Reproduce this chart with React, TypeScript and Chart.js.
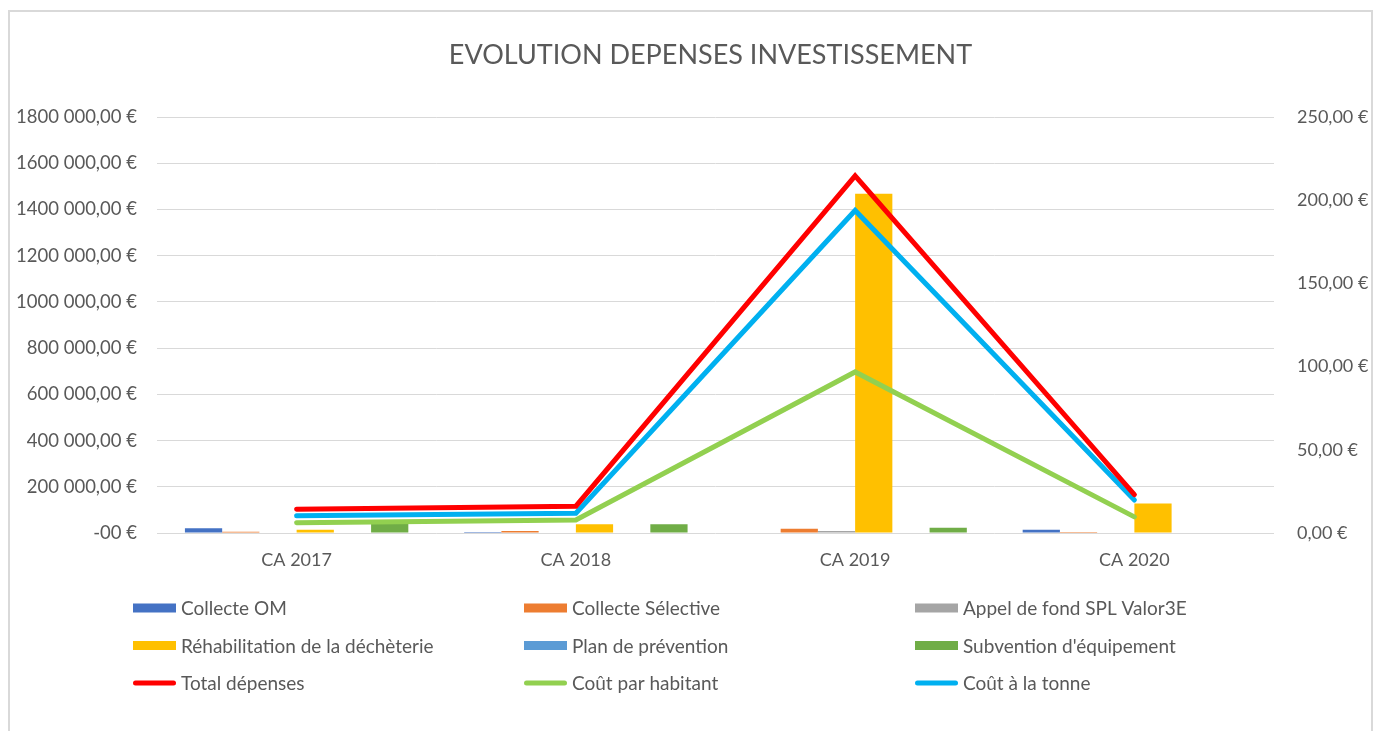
import React, { useEffect, useRef } from "react";
import { Chart, registerables } from "chart.js";

Chart.register(...registerables);

const categories = ["CA 2017", "CA 2018", "CA 2019", "CA 2020"];

const collecteOM = [20500, 4300, 0, 14500];
const collecteSelective = [5000, 8700, 18800, 4300];
const appelFond = [0, 0, 8700, 0];
const rehabilitation = [14000, 37700, 1468000, 127500];
const planPrevention = [0, 0, 0, 0];
const subvention = [42000, 37700, 23200, 0];

const totalDepenses = [103000, 116000, 1545000, 166000];
const coutHabitant = [6.2, 7.8, 96.8, 9.7];
const coutTonne = [10.3, 11.9, 193.8, 19.8];

const leftTickLabels = [
  "-00 €",
  "200 000,00 €",
  "400 000,00 €",
  "600 000,00 €",
  "800 000,00 €",
  "1000 000,00 €",
  "1200 000,00 €",
  "1400 000,00 €",
  "1600 000,00 €",
  "1800 000,00 €",
];
const rightTickLabels = ["0,00 €", "50,00 €", "100,00 €", "150,00 €", "200,00 €", "250,00 €"];

const TITLE = "EVOLUTION DEPENSES INVESTISSEMENT";
const FONT = "Lato";
const TEXT_COLOR = "#595959";

const titleAndLegendPlugin = {
  id: "titleAndLegend",
  afterDraw(chart: any) {
    const ctx = chart.ctx as CanvasRenderingContext2D;
    ctx.save();
    // title
    ctx.font = `27px ${FONT}`;
    ctx.fillStyle = TEXT_COLOR;
    ctx.textAlign = "center";
    ctx.textBaseline = "middle";
    ctx.fillText(TITLE, chart.width / 2 + 20, 43);

    // legend in a 3-column grid
    const left = 123;
    const top = 596;
    const colGap = 391;
    const rowGap = 37.5;
    const markerW = 43;
    ctx.font = `19px ${FONT}`;
    ctx.textAlign = "left";
    chart.data.datasets.forEach((ds: any, i: number) => {
      const col = i % 3;
      const row = Math.floor(i / 3);
      const x = left + col * colGap;
      const y = top + row * rowGap;
      if (ds.type === "line") {
        ctx.strokeStyle = ds.borderColor;
        ctx.lineWidth = 5;
        ctx.lineCap = "round";
        ctx.beginPath();
        ctx.moveTo(x + 2.5, y);
        ctx.lineTo(x + markerW - 2.5, y);
        ctx.stroke();
      } else {
        ctx.fillStyle = ds.backgroundColor;
        ctx.fillRect(x, y - 4.5, markerW, 9);
      }
      ctx.fillStyle = TEXT_COLOR;
      ctx.fillText(ds.label, x + markerW + 5, y + 1);
    });
    ctx.restore();
  },
};

export default function App() {
  const canvasRef = useRef<HTMLCanvasElement | null>(null);

  useEffect(() => {
    if (!canvasRef.current) return;
    const bar = (label: string, data: number[], color: string) => ({
      type: "bar" as const,
      label,
      data,
      backgroundColor: color,
      borderWidth: 0,
      categoryPercentage: 0.8,
      barPercentage: 1.0,
      yAxisID: "y",
      order: 2,
    });
    const line = (label: string, data: number[], color: string, axis: string) => ({
      type: "line" as const,
      label,
      data,
      borderColor: color,
      backgroundColor: color,
      borderWidth: 5,
      pointRadius: 0,
      pointHoverRadius: 0,
      borderCapStyle: "round" as const,
      borderJoinStyle: "miter" as const,
      tension: 0,
      fill: false,
      yAxisID: axis,
      order: 1,
    });

    const chart = new Chart(canvasRef.current, {
      data: {
        labels: categories,
        datasets: [
          bar("Collecte OM", collecteOM, "#4472C4"),
          bar("Collecte Sélective", collecteSelective, "#ED7D31"),
          bar("Appel de fond SPL Valor3E", appelFond, "#A5A5A5"),
          bar("Réhabilitation de la déchèterie", rehabilitation, "#FFC000"),
          bar("Plan de prévention", planPrevention, "#5B9BD5"),
          bar("Subvention d'équipement", subvention, "#70AD47"),
          line("Total dépenses", totalDepenses, "#FF0000", "y"),
          line("Coût par habitant", coutHabitant, "#92D050", "y1"),
          line("Coût à la tonne", coutTonne, "#00B0F0", "y1"),
        ] as any,
      },
      options: {
        animation: false,
        responsive: false,
        maintainAspectRatio: false,
        layout: { padding: { top: 105, left: 0, right: 0, bottom: 148 } },
        plugins: {
          legend: { display: false },
          tooltip: { enabled: false },
          title: { display: false },
        },
        scales: {
          x: {
            offset: true,
            grid: { display: false, drawTicks: false, tickLength: 0 },
            border: { display: false },
            ticks: { color: TEXT_COLOR, font: { family: FONT, size: 18 }, padding: 16 },
            afterFit: (s: any) => {
              s.height = 50;
            },
          },
          y: {
            position: "left",
            min: 0,
            max: 1800000,
            grid: { color: "#d9d9d9", lineWidth: 1, drawTicks: false, tickLength: 0 },
            border: { display: false },
            ticks: {
              stepSize: 200000,
              color: TEXT_COLOR,
              font: { family: FONT, size: 18.5 },
              padding: 20,
              callback: (_v: any, i: number) => leftTickLabels[i],
            },
            afterFit: (s: any) => {
              s.width = 147;
            },
          },
          y1: {
            position: "right",
            min: 0,
            max: 250,
            grid: { drawOnChartArea: false, drawTicks: false, tickLength: 0 },
            border: { display: false },
            ticks: {
              stepSize: 50,
              color: TEXT_COLOR,
              font: { family: FONT, size: 18 },
              padding: 23,
              callback: (_v: any, i: number) => rightTickLabels[i],
            },
            afterFit: (s: any) => {
              s.width = 97;
            },
          },
        },
      } as any,
      plugins: [titleAndLegendPlugin],
    });
    return () => chart.destroy();
  }, []);

  return (
    <div
      style={{
        position: "absolute",
        left: 8,
        top: 10,
        width: 1365,
        height: 721,
        boxSizing: "border-box",
        borderTop: "2px solid #d9d9d9",
        borderLeft: "2px solid #d9d9d9",
        borderRight: "2px solid #d9d9d9",
        background: "#fff",
      }}
    >
      <canvas ref={canvasRef} width={1361} height={719} style={{ display: "block" }} />
    </div>
  );
}
